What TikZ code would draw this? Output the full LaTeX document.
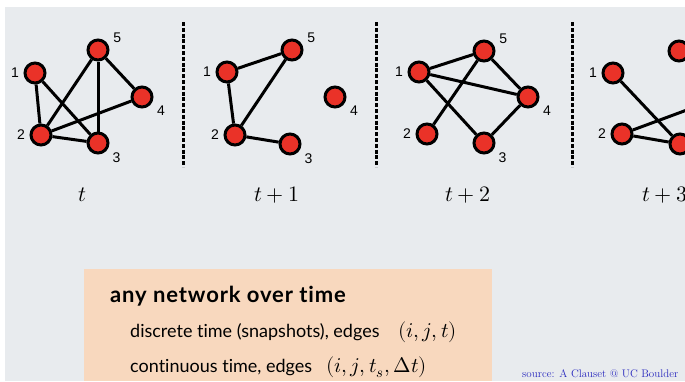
\documentclass[tikz,border=0pt]{standalone}
\usepackage{fontspec}
\usepackage{unicode-math}
\setmathfont{Latin Modern Math}
\newfontfamily\gillfont{Lato}[Ligatures={NoCommon}]
\newfontfamily\gilltitle{Lato}[Ligatures={NoCommon}, LetterSpace=4]
\newfontfamily\helvfont{Liberation Sans}
\usetikzlibrary{positioning}
\definecolor{slidebg}{RGB}{232,235,238}
\definecolor{peach}{RGB}{248,216,190}
\definecolor{nodered}{RGB}{234,50,40}
\definecolor{srcblue}{RGB}{40,40,190}
\tikzset{
  vertex/.style={circle, draw=black, fill=nodered, line width=3pt, minimum size=20pt, inner sep=0pt},
  link/.style={line width=3pt},
  divider/.style={line width=3pt, dash pattern=on 4pt off 1.8pt},
  steplabel/.style={anchor=base, inner sep=0pt, font=\fontsize{22}{22}\selectfont},
  boxline/.style={anchor=base west, inner sep=0pt, font=\gillfont\fontsize{18}{20}\selectfont},
  boxmath/.style={anchor=base west, inner sep=0pt, font=\fontsize{21}{21}\selectfont}
}

\begin{document}
\begin{tikzpicture}[x=1pt, y=-1pt, num/.style={font=\helvfont\fontsize{14}{14}\selectfont}, label distance=1pt]
\useasboundingbox (0,0) rectangle (685,381);
\clip (0,0) rectangle (685,381);
\fill[white] (0,0) rectangle (685,381);
\fill[slidebg] (5,7) rectangle (685,381);
\node[vertex, label={[num]180:1}] (a1) at (35,73) {};
\node[vertex, label={[num]180:2}] (a2) at (41,135) {};
\node[vertex, label={[num]-28:3}] (a3) at (98,143) {};
\node[vertex, label={[num]-23:4}] (a4) at (142,97) {};
\node[vertex, label={[num]20:5}] (a5) at (98,50) {};
\draw[link] (a1) -- (a2);
\draw[link] (a1) -- (a3);
\draw[link] (a2) -- (a5);
\draw[link] (a2) -- (a4);
\draw[link] (a2) -- (a3);
\draw[link] (a5) -- (a3);
\draw[link] (a5) -- (a4);
\draw[divider] (183,22) -- (183,167);
\node[vertex, label={[num]180:1}] (b1) at (227,72) {};
\node[vertex, label={[num]180:2}] (b2) at (235,135) {};
\node[vertex, label={[num]-28:3}] (b3) at (290,144) {};
\node[vertex, label={[num]-23:4}] (b4) at (335,97) {};
\node[vertex, label={[num]20:5}] (b5) at (292,50) {};
\draw[link] (b1) -- (b5);
\draw[link] (b1) -- (b2);
\draw[link] (b2) -- (b5);
\draw[link] (b2) -- (b3);
\draw[divider] (376,22) -- (376,167);
\node[vertex, label={[num]180:1}] (c1) at (419,72) {};
\node[vertex, label={[num]180:2}] (c2) at (427,134) {};
\node[vertex, label={[num]-28:3}] (c3) at (484,143) {};
\node[vertex, label={[num]-23:4}] (c4) at (528,97) {};
\node[vertex, label={[num]20:5}] (c5) at (484,51) {};
\draw[link] (c1) -- (c5);
\draw[link] (c1) -- (c4);
\draw[link] (c1) -- (c3);
\draw[link] (c2) -- (c5);
\draw[link] (c5) -- (c4);
\draw[link] (c4) -- (c3);
\draw[divider] (572,22) -- (572,167);
\node[vertex, label={[num]180:1}] (d1) at (613,73) {};
\node[vertex, label={[num]180:2}] (d2) at (622,134) {};
\node[vertex] (d3) at (680,144) {};
\node[vertex] (d5) at (679,51) {};
\coordinate (d4) at (722,97);
\draw[link] (d1) -- (d3);
\draw[link] (d2) -- (d3);
\draw[link] (d2) -- (d4);
\node[steplabel] (tzero) at (82,201) {$t$};
\node[steplabel] (tone) at (277,201) {$t+1$};
\node[steplabel] (ttwo) at (468,201) {$t+2$};
\node[steplabel] (tthree) at (665,201) {$t+3$};
\fill[peach] (84,269) rectangle (492,381);
\node[boxline, font=\gilltitle\bfseries\fontsize{22}{22}\selectfont] (title) at (110,302) {any network over time};
\node[boxline] (discrete) at (130,337) {discrete time (snapshots), edges};
\node[boxmath] (discmath) at (398,337) {$(i,j,t)$};
\node[boxline] (continuous) at (130,372) {continuous time, edges};
\node[boxmath] (contmath) at (326,372) {$(i,j,t_s,\Delta t)$};
\node[anchor=base west, inner sep=0pt, text=srcblue, font=\rmfamily\fontsize{11}{13}\selectfont] (source) at (522,377) {source: A Clauset @ UC Boulder};
\end{tikzpicture}
\end{document}
